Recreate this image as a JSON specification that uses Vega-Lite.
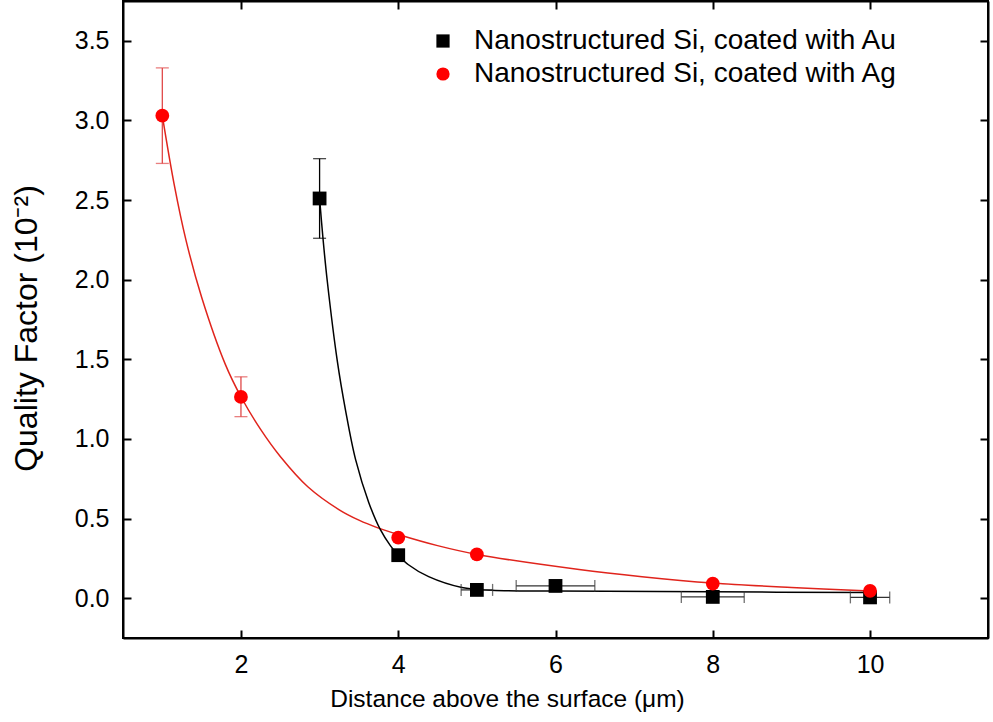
{
  "$schema": "https://vega.github.io/schema/vega-lite/v6.json",
  "width": 865,
  "height": 637,
  "autosize": {"type": "none"},
  "padding": {"left": 123, "top": 1, "right": 5, "bottom": 84},
  "config": {
    "font": "Liberation Sans",
    "view": {"stroke": "black", "strokeWidth": 2},
    "axis": {
      "grid": false,
      "domainColor": "black",
      "domainWidth": 2,
      "tickColor": "black",
      "tickWidth": 2,
      "tickSize": -8,
      "labelFontSize": 25,
      "labelColor": "black",
      "labelFont": "Liberation Sans",
      "labelPadding": 22,
      "titleFont": "Liberation Sans",
      "titleFontSize": 24.5,
      "titleFontWeight": "normal",
      "titleColor": "black"
    }
  },
  "datasets": {
    "pts": [
      {"sample": "Nanostructured Si, coated with Au", "x": 3, "y": 2.51},
      {"sample": "Nanostructured Si, coated with Au", "x": 4, "y": 0.27},
      {"sample": "Nanostructured Si, coated with Au", "x": 5, "y": 0.052},
      {"sample": "Nanostructured Si, coated with Au", "x": 6, "y": 0.077},
      {"sample": "Nanostructured Si, coated with Au", "x": 8, "y": 0.008},
      {"sample": "Nanostructured Si, coated with Au", "x": 10, "y": 0.005},
      {"sample": "Nanostructured Si, coated with Ag", "x": 1, "y": 3.03},
      {"sample": "Nanostructured Si, coated with Ag", "x": 2, "y": 1.264},
      {"sample": "Nanostructured Si, coated with Ag", "x": 4, "y": 0.38},
      {"sample": "Nanostructured Si, coated with Ag", "x": 5, "y": 0.275},
      {"sample": "Nanostructured Si, coated with Ag", "x": 8, "y": 0.092},
      {"sample": "Nanostructured Si, coated with Ag", "x": 10, "y": 0.046}
    ],
    "fitAg": [
      {"x": 1.0, "y": 3.03},
      {"x": 1.15, "y": 2.6},
      {"x": 1.3, "y": 2.25},
      {"x": 1.5, "y": 1.89},
      {"x": 1.8, "y": 1.47},
      {"x": 2.0, "y": 1.265},
      {"x": 2.25, "y": 1.06},
      {"x": 2.5, "y": 0.89},
      {"x": 2.85, "y": 0.7},
      {"x": 3.25, "y": 0.555},
      {"x": 3.5, "y": 0.49},
      {"x": 3.75, "y": 0.44},
      {"x": 4.0, "y": 0.4},
      {"x": 4.5, "y": 0.33},
      {"x": 5.0, "y": 0.275},
      {"x": 6.3, "y": 0.18},
      {"x": 7.1, "y": 0.135},
      {"x": 8.0, "y": 0.095},
      {"x": 9.0, "y": 0.067},
      {"x": 10.0, "y": 0.045}
    ],
    "fitAu": [
      {"x": 3.0, "y": 2.51},
      {"x": 3.043, "y": 2.26},
      {"x": 3.098, "y": 1.99},
      {"x": 3.225, "y": 1.49},
      {"x": 3.33, "y": 1.18},
      {"x": 3.458, "y": 0.87},
      {"x": 3.626, "y": 0.6},
      {"x": 3.773, "y": 0.43},
      {"x": 3.9, "y": 0.33},
      {"x": 4.0, "y": 0.27},
      {"x": 4.13, "y": 0.21},
      {"x": 4.387, "y": 0.135},
      {"x": 4.81, "y": 0.067},
      {"x": 5.19, "y": 0.05},
      {"x": 6.0, "y": 0.045},
      {"x": 8.0, "y": 0.04},
      {"x": 10.0, "y": 0.035}
    ],
    "verrAg": [
      {"x": 1, "lo": 2.73, "hi": 3.33},
      {"x": 2, "lo": 1.14, "hi": 1.39}
    ],
    "verrAu": [
      {"x": 3, "lo": 2.26, "hi": 2.76}
    ],
    "herrAu": [
      {"y": 0.052, "lo": 4.8, "hi": 5.2},
      {"y": 0.077, "lo": 5.5, "hi": 6.5},
      {"y": 0.008, "lo": 7.6, "hi": 8.4},
      {"y": 0.005, "lo": 9.75, "hi": 10.25}
    ]
  },
  "layer": [
    {
      "data": {"name": "fitAg"},
      "mark": {"type": "line", "color": "#e0241c", "strokeWidth": 1.5, "interpolate": "catmull-rom"},
      "encoding": {
        "x": {
          "field": "x", "type": "quantitative",
          "scale": {"domain": [0.5, 11.5], "nice": false, "zero": false},
          "axis": {
            "orient": "bottom", "values": [2, 4, 6, 8, 10],
            "title": "Distance above the surface (μm)",
            "titleX": 384, "titleY": 68, "titleBaseline": "alphabetic"
          }
        },
        "y": {
          "field": "y", "type": "quantitative",
          "scale": {"domain": [-0.25, 3.75], "nice": false, "zero": false},
          "axis": {
            "orient": "left", "values": [0, 0.5, 1, 1.5, 2, 2.5, 3, 3.5], "format": ".1f",
            "title": "Quality Factor (10⁻²)", "titleFontSize": 32,
            "titleX": -87, "titleY": 327, "titleBaseline": "alphabetic", "titleAngle": -90
          }
        }
      }
    },
    {
      "data": {"name": "fitAu"},
      "mark": {"type": "line", "color": "black", "strokeWidth": 1.5, "interpolate": "catmull-rom"},
      "encoding": {
        "x": {
          "field": "x", "type": "quantitative",
          "axis": {"orient": "top", "values": [2, 4, 6, 8, 10], "labels": false, "title": null}
        },
        "y": {
          "field": "y", "type": "quantitative",
          "axis": {"orient": "right", "values": [0, 0.5, 1, 1.5, 2, 2.5, 3, 3.5], "labels": false, "title": null}
        }
      }
    },
    {
      "data": {"name": "herrAu"},
      "mark": {"type": "rule", "color": "#333333", "strokeWidth": 1.3},
      "encoding": {
        "x": {"field": "lo", "type": "quantitative", "axis": null},
        "x2": {"field": "hi"},
        "y": {"field": "y", "type": "quantitative", "axis": null}
      }
    },
    {
      "data": {"name": "herrAu"},
      "mark": {"type": "tick", "orient": "vertical", "color": "#333333", "size": 12, "thickness": 1.3},
      "encoding": {
        "x": {"field": "lo", "type": "quantitative", "axis": null},
        "y": {"field": "y", "type": "quantitative", "axis": null}
      }
    },
    {
      "data": {"name": "herrAu"},
      "mark": {"type": "tick", "orient": "vertical", "color": "#333333", "size": 12, "thickness": 1.3},
      "encoding": {
        "x": {"field": "hi", "type": "quantitative", "axis": null},
        "y": {"field": "y", "type": "quantitative", "axis": null}
      }
    },
    {
      "data": {"name": "verrAu"},
      "mark": {"type": "rule", "color": "black", "strokeWidth": 1.3},
      "encoding": {
        "x": {"field": "x", "type": "quantitative", "axis": null},
        "y": {"field": "lo", "type": "quantitative", "axis": null},
        "y2": {"field": "hi"}
      }
    },
    {
      "data": {"name": "verrAu"},
      "mark": {"type": "tick", "orient": "horizontal", "color": "black", "size": 13, "thickness": 1.3},
      "encoding": {
        "x": {"field": "x", "type": "quantitative", "axis": null},
        "y": {"field": "lo", "type": "quantitative", "axis": null}
      }
    },
    {
      "data": {"name": "verrAu"},
      "mark": {"type": "tick", "orient": "horizontal", "color": "black", "size": 13, "thickness": 1.3},
      "encoding": {
        "x": {"field": "x", "type": "quantitative", "axis": null},
        "y": {"field": "hi", "type": "quantitative", "axis": null}
      }
    },
    {
      "data": {"name": "verrAg"},
      "mark": {"type": "rule", "color": "#e04848", "strokeWidth": 1.3},
      "encoding": {
        "x": {"field": "x", "type": "quantitative", "axis": null},
        "y": {"field": "lo", "type": "quantitative", "axis": null},
        "y2": {"field": "hi"}
      }
    },
    {
      "data": {"name": "verrAg"},
      "mark": {"type": "tick", "orient": "horizontal", "color": "#e04848", "size": 13, "thickness": 1.3},
      "encoding": {
        "x": {"field": "x", "type": "quantitative", "axis": null},
        "y": {"field": "lo", "type": "quantitative", "axis": null}
      }
    },
    {
      "data": {"name": "verrAg"},
      "mark": {"type": "tick", "orient": "horizontal", "color": "#e04848", "size": 13, "thickness": 1.3},
      "encoding": {
        "x": {"field": "x", "type": "quantitative", "axis": null},
        "y": {"field": "hi", "type": "quantitative", "axis": null}
      }
    },
    {
      "data": {"name": "pts"},
      "mark": {"type": "point", "filled": true, "opacity": 1, "size": 190, "strokeWidth": 0},
      "encoding": {
        "x": {"field": "x", "type": "quantitative", "axis": null},
        "y": {"field": "y", "type": "quantitative", "axis": null},
        "color": {
          "field": "sample", "type": "nominal",
          "scale": {"domain": ["Nanostructured Si, coated with Au", "Nanostructured Si, coated with Ag"], "range": ["black", "#ff0000"]},
          "legend": {
            "orient": "none", "legendX": 306, "legendY": 26, "title": null,
            "labelFontSize": 28, "labelFont": "Liberation Sans", "labelColor": "black", "labelLimit": 0,
            "symbolSize": 175, "labelOffset": 17, "rowPadding": 5, "symbolStrokeWidth": 0
          }
        },
        "shape": {
          "field": "sample", "type": "nominal",
          "scale": {"domain": ["Nanostructured Si, coated with Au", "Nanostructured Si, coated with Ag"], "range": ["square", "circle"]},
          "legend": {
            "orient": "none", "legendX": 306, "legendY": 26, "title": null,
            "labelFontSize": 28, "labelFont": "Liberation Sans", "labelColor": "black", "labelLimit": 0,
            "symbolSize": 175, "labelOffset": 17, "rowPadding": 5, "symbolStrokeWidth": 0
          }
        }
      }
    }
  ],
  "resolve": {"axis": {"x": "independent", "y": "independent"}}
}
